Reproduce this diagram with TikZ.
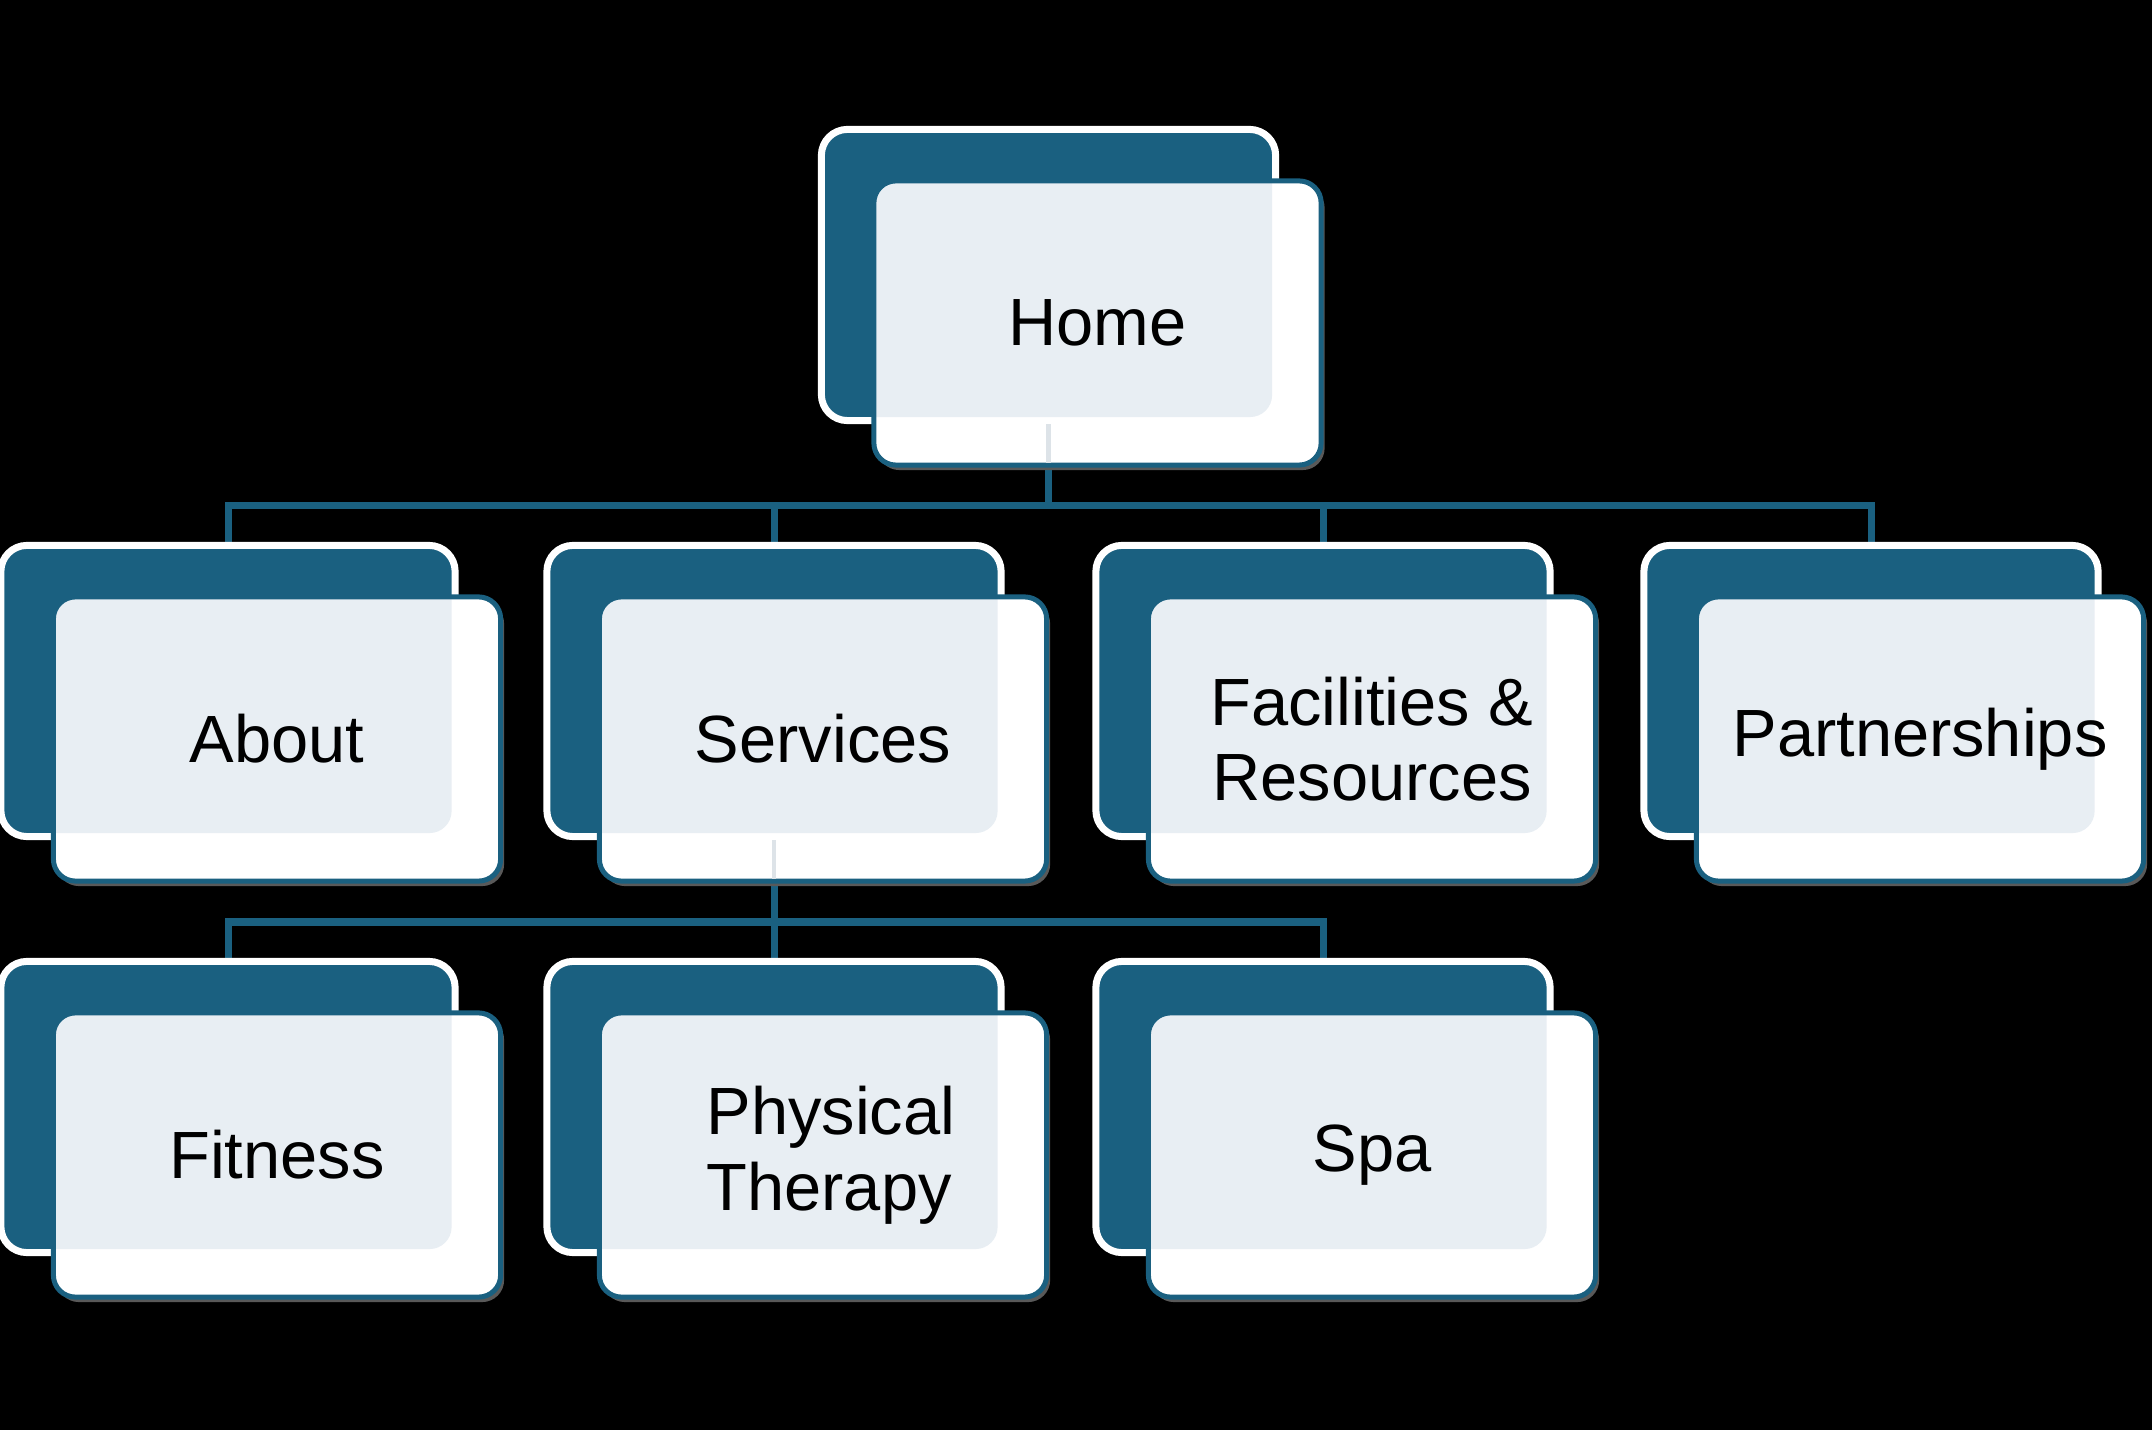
\documentclass[tikz,border=0pt]{standalone}
\usepackage{fontspec}
\setmainfont{Liberation Sans}
\usetikzlibrary{shadows}
\definecolor{navy}{RGB}{26,96,128}
\definecolor{paleblue}{RGB}{232,238,243}
\definecolor{faintgray}{RGB}{221,227,232}
\pgfdeclarelayer{bg}
\pgfsetlayers{bg,main}

\begin{document}
\begin{tikzpicture}[x=0.01cm,y=0.01cm]
            \tikzstyle{back}=[fill=navy,draw=white,line width=0.07cm,rounded corners=0.26cm,minimum width=4.54cm,minimum height=2.91cm,inner sep=0pt]
            \tikzstyle{front}=[fill=white,draw=navy,line width=0.05cm,rounded corners=0.22cm,minimum width=4.47cm,minimum height=2.84cm,inner sep=0pt,font=\fontsize{19}{21.5}\selectfont,align=center,
              drop shadow={shadow xshift=0.035cm,shadow yshift=-0.05cm,fill=black!65,opacity=1},
              path picture={\fill[paleblue,rounded corners=0.22cm] ([shift={(-0.49cm,0.48cm)}]path picture bounding box.south west) rectangle ([shift={(-0.49cm,0.48cm)}]path picture bounding box.north east);}]
            \tikzstyle{link}=[navy,line width=0.07cm]
            \tikzstyle{faint}=[faintgray,line width=0.045cm,shorten >=0.05cm]
            \useasboundingbox (0,0) rectangle (2152,1430);
            % home
            \node[back] (home) at (1048.5,1155) {};
            \node[front] (home-f) at (1097.5,1107) {Home};
            % first level
            \node[back] (about) at (228,739) {};
            \node[front] (about-f) at (277,691) {About};
            \node[back] (services) at (774,739) {};
            \node[front] (services-f) at (823,691) {Services};
            \node[back] (facilities) at (1323,739) {};
            \node[front] (facilities-f) at (1372,691) {Facilities \&\\Resources};
            \node[back] (partners) at (1871,739) {};
            \node[front] (partners-f) at (1920,691) {Partnerships};
            % second level
            \node[back] (fitness) at (228,323) {};
            \node[front] (fitness-f) at (277,275) {Fitness};
            \node[back] (therapy) at (774,323) {};
            \node[front,align=left] (therapy-f) at (823,275) {\hspace*{0.16cm}Physical\\\hspace*{0.16cm}Therapy};
            \node[back] (spa) at (1323,323) {};
            \node[front] (spa-f) at (1372,275) {Spa};
            % lines seen through the front boxes
            \draw[faint] (home.south) -- (home.south |- home-f.south);
            \draw[faint] (services.south) -- (services.south |- services-f.south);
            % connectors
            \begin{pgfonlayer}{bg}
              \fill[black] (0,0) rectangle (2152,1430);
              \coordinate (bus1) at (1048.5,924);
              \coordinate (bus2) at (774,508);
              \draw[link] (home.south) -- (bus1) -| (about.north);
              \draw[link] (home.south) -- (bus1) -| (services.north);
              \draw[link] (home.south) -- (bus1) -| (facilities.north);
              \draw[link] (home.south) -- (bus1) -| (partners.north);
              \draw[link] (services.south) -- (bus2) -| (fitness.north);
              \draw[link] (services.south) -- (bus2) -| (therapy.north);
              \draw[link] (services.south) -- (bus2) -| (spa.north);
            \end{pgfonlayer}
        \end{tikzpicture}
\end{document}
